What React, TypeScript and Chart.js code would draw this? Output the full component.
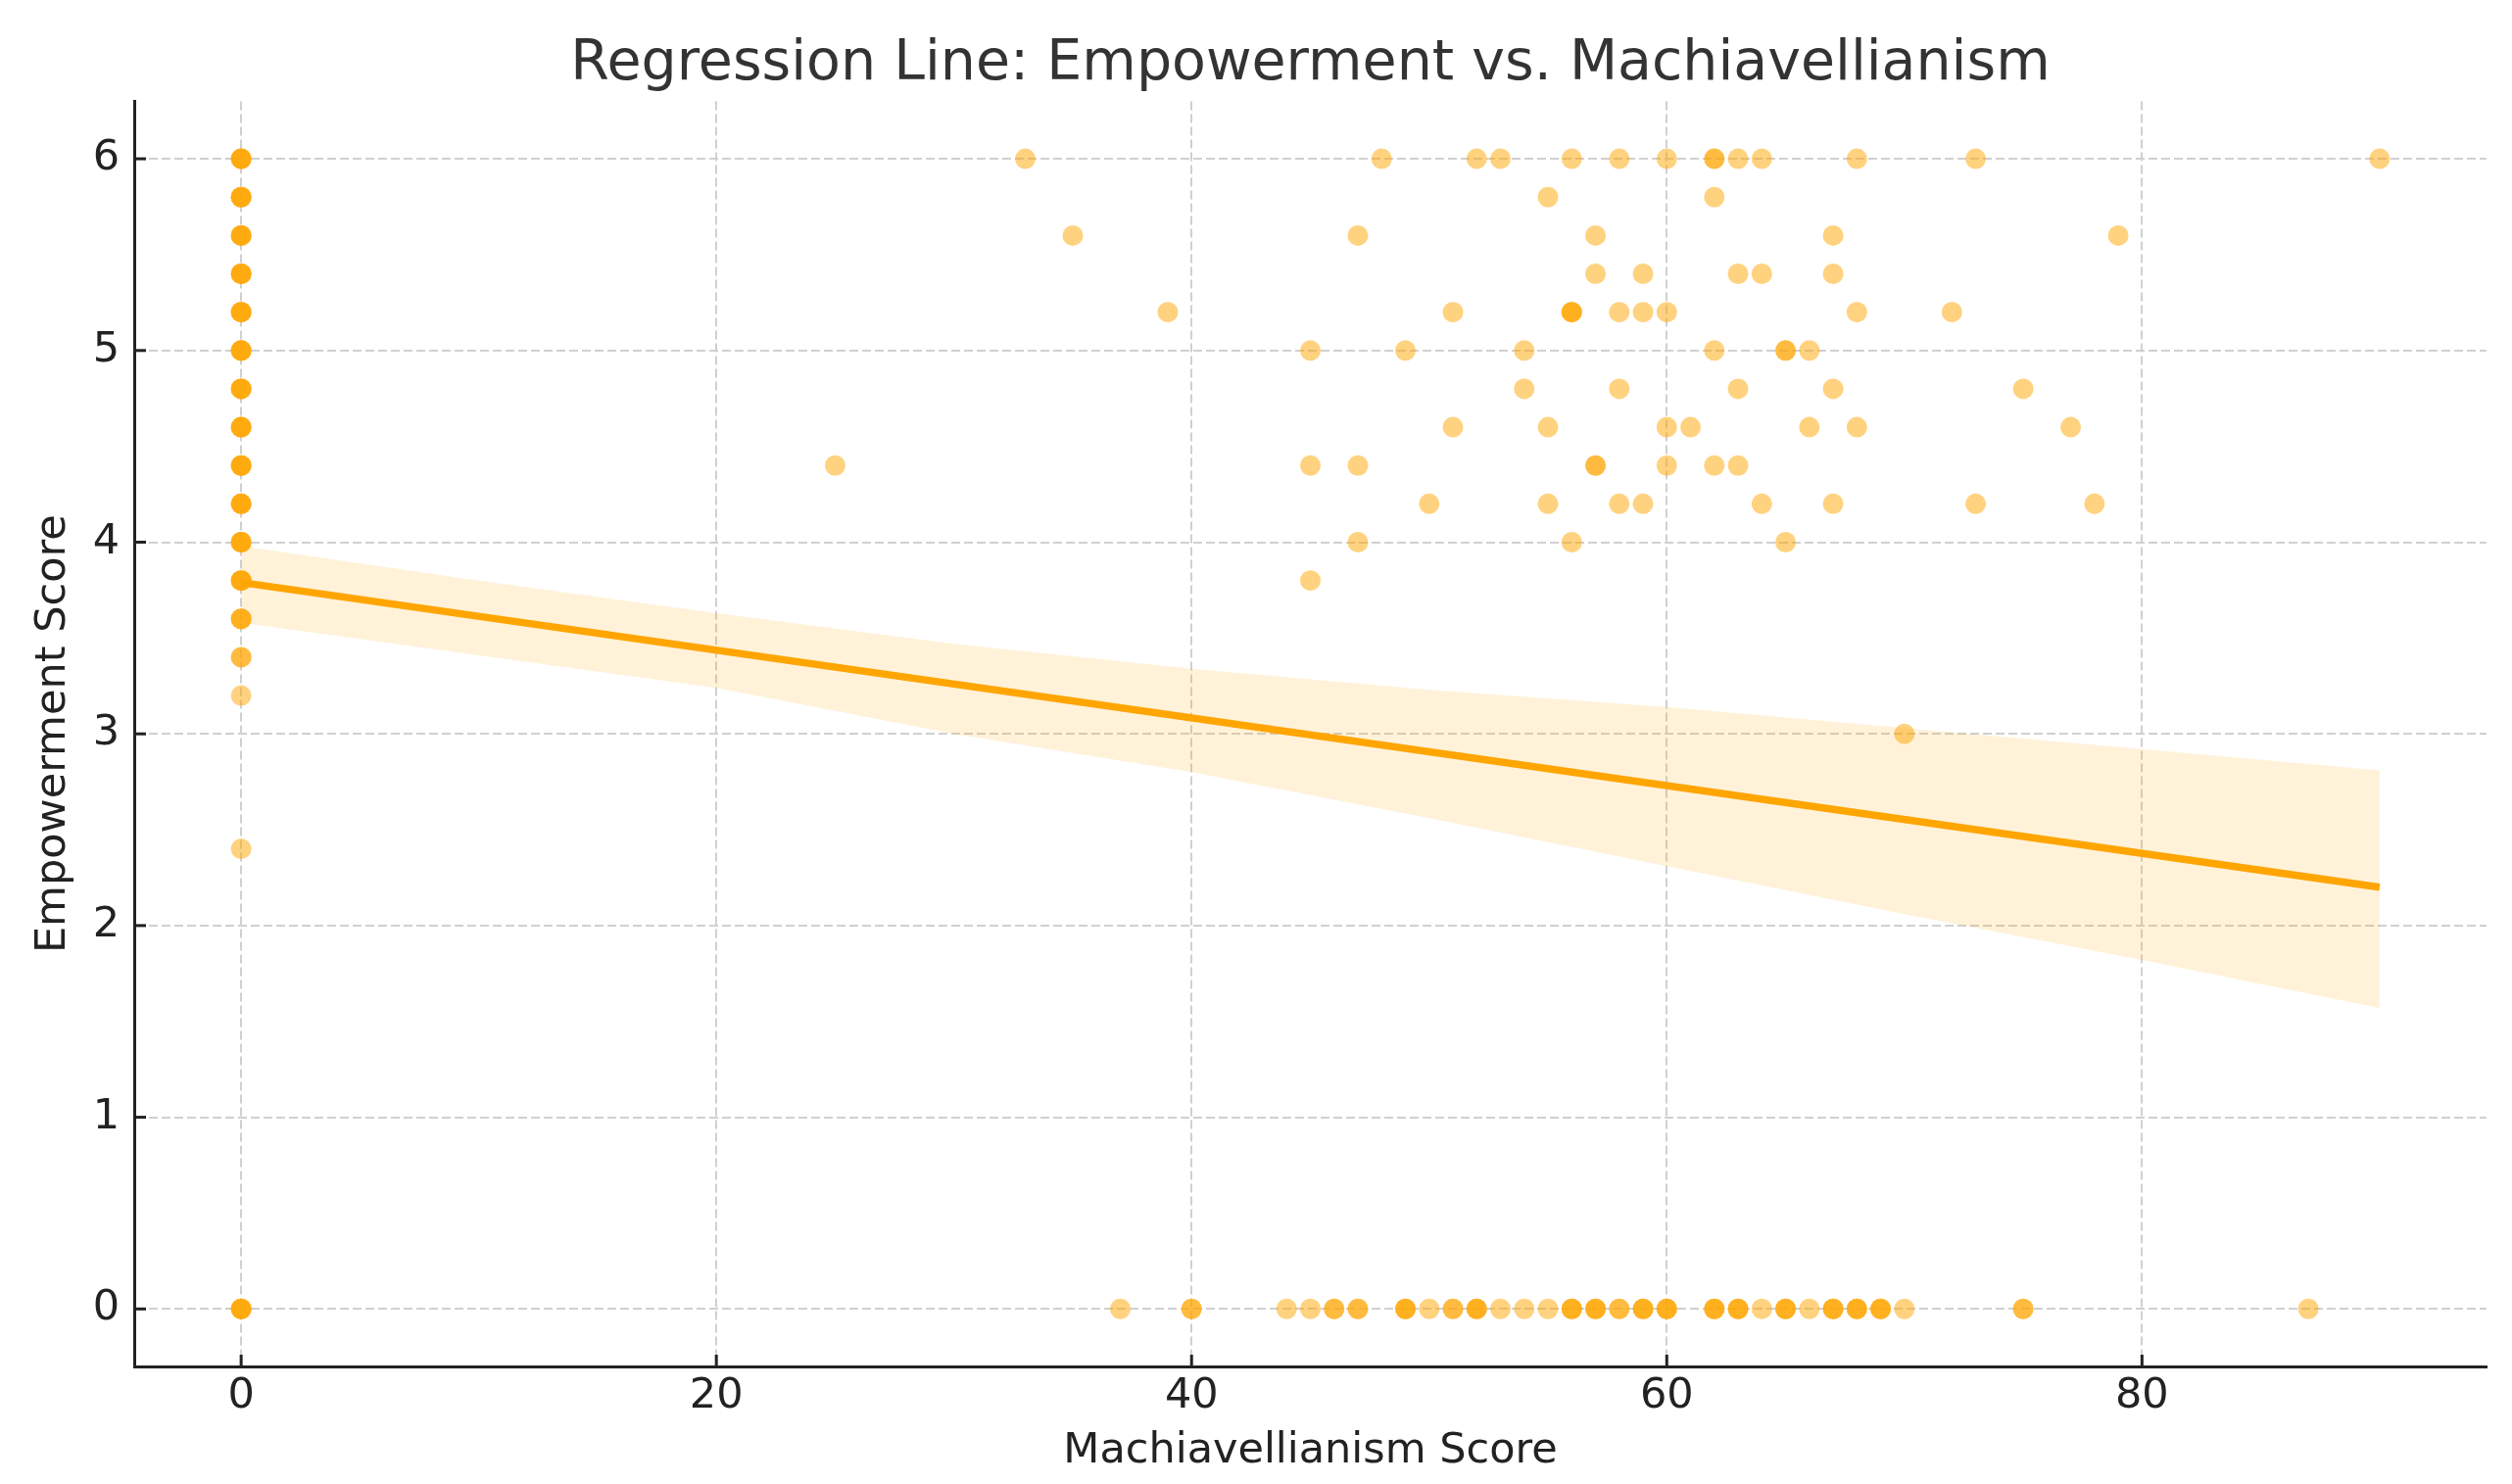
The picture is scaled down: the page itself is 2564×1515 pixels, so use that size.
import { useEffect, useRef } from "react";
import { Chart, registerables, Plugin } from "chart.js";

Chart.register(...registerables);

// Empowerment levels (y) and the Machiavellianism scores (x) observed at each level.
// Repeated values are respondents sharing the same point.
const empLevels = [6, 5.8, 5.6, 5.4, 5.2, 5, 4.8, 4.6, 4.4, 4.2, 4, 3.8, 3.6, 3.4, 3.2, 3, 2.4, 0];
const machByLevel: number[][] = [
  [0, 0, 0, 0, 33, 48, 52, 53, 56, 58, 60, 62, 62, 63, 64, 68, 73, 90],
  [0, 0, 0, 0, 55, 62],
  [0, 0, 0, 0, 35, 47, 57, 67, 79],
  [0, 0, 0, 0, 57, 59, 63, 64, 67],
  [0, 0, 0, 0, 39, 51, 56, 56, 56, 58, 59, 60, 68, 72],
  [0, 0, 0, 0, 45, 49, 54, 62, 65, 65, 66],
  [0, 0, 0, 0, 54, 58, 63, 67, 75],
  [0, 0, 0, 0, 51, 55, 60, 61, 66, 68, 77],
  [0, 0, 0, 0, 25, 45, 47, 57, 57, 60, 62, 63],
  [0, 0, 0, 0, 50, 55, 58, 59, 64, 67, 73, 78],
  [0, 0, 0, 0, 47, 56, 65],
  [0, 0, 0, 0, 45],
  [0, 0, 0],
  [0, 0],
  [0],
  [70],
  [0],
  [
    0, 0, 0, 0, 37, 40, 40, 44, 45, 46, 46, 47, 47, 49, 49, 49, 50, 51, 51, 52, 52, 52, 53, 54, 55,
    56, 56, 56, 57, 57, 57, 58, 58, 59, 59, 59, 60, 60, 60, 62, 62, 62, 63, 63, 63, 64, 65, 65, 65,
    66, 67, 67, 67, 68, 68, 68, 69, 69, 69, 70, 75, 75, 87,
  ],
];

// fitted regression line and its confidence band
const fitX = [0, 90];
const fitY = [3.79, 2.2];
const bandX = [0, 10, 20, 30, 40, 50, 60, 70, 80, 90];
const bandUpper = [3.98, 3.8, 3.63, 3.47, 3.34, 3.23, 3.14, 3.03, 2.92, 2.81];
const bandLower = [3.58, 3.41, 3.24, 3.0, 2.8, 2.56, 2.31, 2.06, 1.82, 1.57];

const xTicks = [0, 20, 40, 60, 80];
const yTicks = [0, 1, 2, 3, 4, 5, 6];

const ORANGE = "#FFA500";
const FONT = "DejaVu Sans";

const inwardTicks: Plugin = {
  id: "inwardTicks",
  afterDatasetsDraw(chart) {
    const { ctx, chartArea, scales } = chart;
    const x = scales.x;
    const y = scales.y;
    ctx.save();
    ctx.strokeStyle = "#222222";
    ctx.lineWidth = 3;
    x.ticks.forEach((t) => {
      const px = x.getPixelForValue(t.value);
      ctx.beginPath();
      ctx.moveTo(px, chartArea.bottom);
      ctx.lineTo(px, chartArea.bottom - 12);
      ctx.stroke();
    });
    y.ticks.forEach((t) => {
      const py = y.getPixelForValue(t.value);
      ctx.beginPath();
      ctx.moveTo(chartArea.left, py);
      ctx.lineTo(chartArea.left + 12, py);
      ctx.stroke();
    });
    ctx.restore();
  },
};

export default function App() {
  const canvasRef = useRef<HTMLCanvasElement>(null);

  useEffect(() => {
    if (!canvasRef.current) return;

    const points = empLevels.flatMap((level, i) =>
      machByLevel[i].map((m) => ({ x: m, y: level }))
    );

    const gridDash = [9, 4];

    const chart = new Chart(canvasRef.current, {
      type: "scatter",
      data: {
        datasets: [
          {
            type: "line",
            label: "fit",
            data: fitX.map((x, i) => ({ x, y: fitY[i] })),
            borderColor: ORANGE,
            borderWidth: 7.5,
            pointRadius: 0,
            fill: false,
            order: 0,
          },
          {
            type: "scatter",
            label: "respondents",
            data: points,
            backgroundColor: "rgba(255,165,0,0.5)",
            borderWidth: 0,
            pointRadius: 10.5,
            order: 1,
          },
          {
            type: "line",
            label: "lower",
            data: bandX.map((x, i) => ({ x, y: bandLower[i] })),
            borderWidth: 0,
            pointRadius: 0,
            fill: false,
            order: 3,
          },
          {
            type: "line",
            label: "upper",
            data: bandX.map((x, i) => ({ x, y: bandUpper[i] })),
            borderWidth: 0,
            pointRadius: 0,
            backgroundColor: "rgba(255,165,0,0.15)",
            fill: "-1",
            order: 2,
          },
        ],
      },
      options: {
        animation: false,
        responsive: false,
        devicePixelRatio: 1,
        layout: { padding: { top: 0, left: 0, right: 26, bottom: 0 } },
        plugins: {
          legend: { display: false },
          tooltip: { enabled: false },
          title: {
            display: true,
            fullSize: false,
            text: "Regression Line: Empowerment vs. Machiavellianism",
            color: "#333333",
            font: { family: FONT, size: 57, weight: "normal", lineHeight: 1.2 },
            padding: { top: 32, bottom: 3 },
          },
        },
        scales: {
          x: {
            type: "linear",
            min: -4.5,
            max: 94.5,
            afterBuildTicks: (scale) => {
              scale.ticks = xTicks.map((v) => ({ value: v }));
            },
            afterFit: (scale) => {
              scale.height = 120;
            },
            ticks: {
              autoSkip: false,
              maxRotation: 0,
              padding: 5,
              color: "#222222",
              font: { family: FONT, size: 43, lineHeight: 1.2 },
            },
            grid: { color: "#d0d0d0", lineWidth: 2, drawTicks: false },
            border: { display: true, color: "#222222", width: 3, dash: gridDash },
            title: {
              display: true,
              text: "Machiavellianism Score",
              color: "#222222",
              font: { family: FONT, size: 43, lineHeight: 1.2 },
              padding: { top: 0, bottom: 7 },
            },
          },
          y: {
            type: "linear",
            min: -0.3,
            max: 6.3,
            afterBuildTicks: (scale) => {
              scale.ticks = yTicks.map((v) => ({ value: v }));
            },
            afterFit: (scale) => {
              scale.width = 137;
            },
            ticks: {
              autoSkip: false,
              padding: 15,
              color: "#222222",
              font: { family: FONT, size: 43, lineHeight: 1.2 },
            },
            grid: { color: "#d0d0d0", lineWidth: 2, drawTicks: false },
            border: { display: true, color: "#222222", width: 3, dash: gridDash },
            title: {
              display: true,
              text: "Empowerment Score",
              color: "#222222",
              font: { family: FONT, size: 43, lineHeight: 1.2 },
              padding: { top: 29, bottom: 0 },
            },
          },
        },
      },
      plugins: [inwardTicks],
    });

    return () => {
      chart.destroy();
    };
  }, []);

  return (
    <div style={{ position: "absolute", left: 0, top: 0, width: 2564, height: 1515, background: "#ffffff" }}>
      <canvas ref={canvasRef} width={2564} height={1515} style={{ display: "block" }} />
    </div>
  );
}
